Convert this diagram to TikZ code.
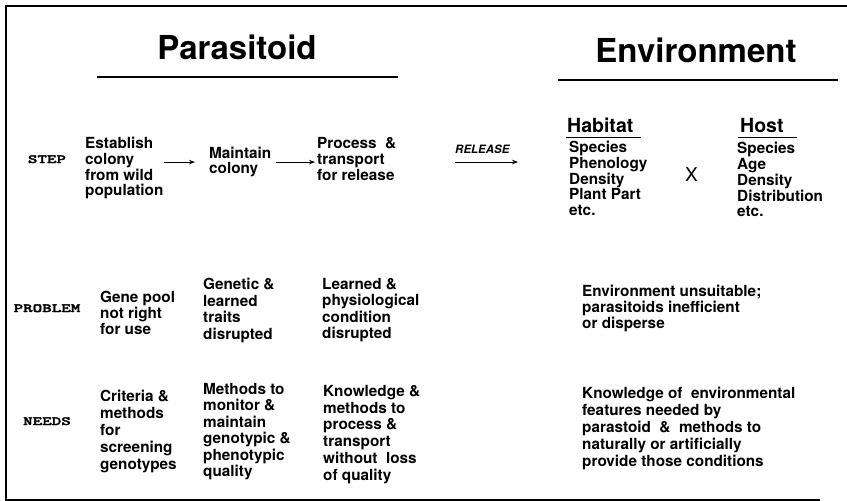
\documentclass[tikz,border=0pt]{standalone}
\usepackage{fontspec}
\setmainfont{TeX Gyre Heros}
\newfontfamily\rowfont{lmmonolt10-bold.otf}[FakeStretch=1.45,FakeBold=2.5]
\usetikzlibrary{arrows.meta}

\tikzset{
  every node/.style={inner sep=0pt},
  title/.style={anchor=base,font=\bfseries\fontsize{33}{33}\selectfont},
  rowlabel/.style={anchor=base,font=\fontsize{12.5}{12.5}\rowfont},
  txt/.style={anchor=north west,align=left,font=\bfseries\fontsize{15.3}{#1}\selectfont},
  txt/.default=16.5,
  sub/.style={anchor=base west,font=\bfseries\fontsize{19.5}{19.5}\selectfont},
  arr/.style={-{Stealth[length=6pt,width=4.5pt]},line width=0.8pt},
}

\begin{document}
\begin{tikzpicture}[x=1pt,y=-1pt]
\useasboundingbox (0,0) rectangle (847,501);
% open frame
\draw[line width=2pt] (847,6) -- (6,6) -- (6,500) -- (820,500);

% headings
\node[title] (par) at (237,59) {Parasitoid};
\node[title] (envt) at (696,62) {Environment};
\draw[line width=2.2pt] (97,77) -- (398,77);
\draw[line width=2.2pt] (558,80) -- (838,80);

% row labels
\node[rowlabel] (step) at (47,163) {STEP};
\node[rowlabel] (prob) at (47,312) {PROBLEM};
\node[rowlabel] (need) at (47,425) {NEEDS};

% steps
\node[txt=15.7] (est) at (85,137) {Establish\\colony\\from wild\\population};
\node[txt=15] (mnt) at (209,147) {Maintain\\colony};
\node[txt=16] (prc) at (317,137) {Process\ \ \&\\transport\\for release};
\draw[arr] (est.east |- mnt.west) -- ([xshift=-14pt]mnt.west);
\draw[arr] ([xshift=4pt]mnt.east) -- ([xshift=-2pt]prc.west |- mnt.east);

\node[anchor=base west,font=\bfseries\itshape\fontsize{11.5}{11.5}\selectfont] (rel) at (455,153) {RELEASE};
\coordinate (relend) at (518,162);
\draw[arr] (rel.west |- relend) -- (relend);

% habitat x host
\node[sub] (hab) at (567,132) {Habitat};
\node[sub] (host) at (740,132) {Host};
\draw[line width=0.8pt] (566,137) -- (641,137);
\draw[line width=0.8pt] (738,137) -- (797,137);
\node[txt=15.7] (habl) at (569,141) {Species\\Phenology\\Density\\Plant Part\\etc.};
\node[anchor=base,font=\fontsize{19}{19}\selectfont] (cross) at (691.5,181) {X};
\node[txt=15.8] (hostl) at (737,142) {Species\\Age\\Density\\Distribution\\etc.};

% problems
\node[txt=16] (gene) at (100,291) {Gene pool\\not right\\for use};
\node[txt] (gtr) at (203,278) {Genetic \&\\learned\\traits\\disrupted};
\node[txt] (lrn) at (322,278) {Learned \&\\physiological\\condition\\disrupted};
\node[txt=16] (unsuit) at (582,285) {Environment unsuitable;\\parasitoids inefficient\\or disperse};

% needs
\node[txt=16.9] (crit) at (100,390) {Criteria \&\\methods\\for\\screening\\genotypes};
\node[txt] (mon) at (203,383) {Methods to\\monitor \&\\maintain\\genotypic \&\\phenotypic\\quality};
\node[txt=16.8] (know) at (323,385) {Knowledge \&\\methods to\\process \&\\transport\\without\ \ loss\\of quality};
\node[txt=17] (feat) at (582,387) {Knowledge of\ \ environmental\\features needed by\\parastoid\ \ \&\ \ methods to\\naturally or artificially\\provide those conditions};
\end{tikzpicture}
\end{document}
